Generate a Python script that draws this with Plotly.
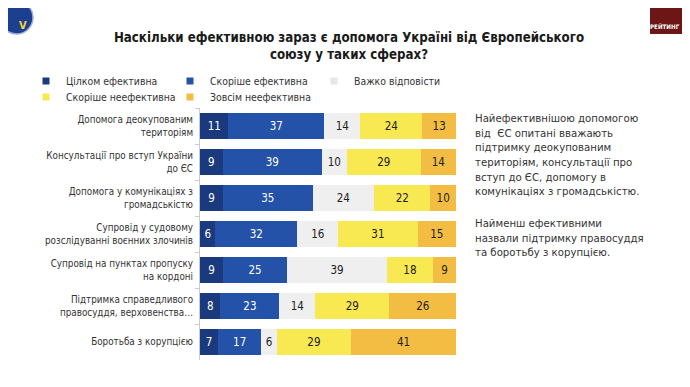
import plotly.graph_objects as go

categories = [
    "Допомога деокупованим<br>територіям",
    "Консультації про вступ України<br>до ЄС",
    "Допомога у комунікаціях з<br>громадськістю",
    "Супровід у судовому<br>розслідуванні воєнних злочинів",
    "Супровід на пунктах пропуску<br>на кордоні",
    "Підтримка справедливого<br>правосуддя, верховенства…",
    "Боротьба з корупцією",
]
series_names = ["Цілком ефективна", "Скоріше ефективна", "Важко відповісти",
                "Скоріше неефективна", "Зовсім неефективна"]
fully_eff = [11, 9, 9, 6, 9, 8, 7]
rather_eff = [37, 39, 35, 32, 25, 23, 17]
hard_to_say = [14, 10, 24, 16, 39, 14, 6]
rather_ineff = [24, 29, 22, 31, 18, 29, 29]
not_eff = [13, 14, 10, 15, 9, 26, 41]
values = [fully_eff, rather_eff, hard_to_say, rather_ineff, not_eff]
colors = ["#1b3a7d", "#2452a8", "#efefef", "#f8e852", "#f2bd42"]
text_colors = ["#ffffff", "#ffffff", "#222222", "#222222", "#222222"]

title_text = "Наскільки ефективною зараз є допомога Україні від Європейського<br>союзу у таких сферах?"
note1 = ("Найефективнішою допомогою<br>від  ЄС опитані вважають<br>підтримку деокупованим<br>"
         "територіям, консультації про<br>вступ до ЄС, допомогу в<br>комунікаціях з громадськістю.")
note2 = "Найменш ефективними<br>назвали підтримку правосуддя<br>та боротьбу з корупцією."

# page is shown with an 8px body margin on every side, so the figure is laid
# out smaller to avoid scrollbars
OFF = 8
W, H = 690 - 2 * OFF, 387 - 2 * OFF
ML, MT = 200 - OFF, 108 - OFF
MR = (690 - OFF) - 456
MB = (387 - OFF) - 360
PW, PH = W - ML - MR, H - MT - MB


def px(x):
    """reference page x -> paper x"""
    return (x - OFF - ML) / PW


def py(y):
    """reference page y -> paper y"""
    return 1 - (y - OFF - MT) / PH


FONT = "DejaVu Sans Condensed, DejaVu Sans, sans-serif"

fig = go.Figure()
for name, vals, col, tcol in zip(series_names, values, colors, text_colors):
    fig.add_trace(go.Bar(
        y=categories, x=vals, orientation="h", name=name,
        marker=dict(color=col, line=dict(width=0)),
        text=[str(v) for v in vals], textposition="inside",
        insidetextanchor="middle", textangle=0, constraintext="none",
        textfont=dict(color=tcol, size=11.5, family=FONT),
        showlegend=False, hoverinfo="skip",
    ))

for i, (name, col) in enumerate(zip(series_names, colors)):
    fig.add_trace(go.Scatter(
        x=[None], y=[None], mode="markers", name=name,
        marker=dict(symbol="square", size=7, color=col if col != "#efefef" else "#e6e6e6"),
        legend="legend" if i < 3 else "legend2", showlegend=True,
    ))

legend_common = dict(
    orientation="h", xref="paper", yref="paper",
    xanchor="left", yanchor="middle", traceorder="normal",
    font=dict(size=10.4, color="#333333", family=FONT),
    entrywidth=99, entrywidthmode="pixels",
    bgcolor="rgba(0,0,0,0)", itemclick=False, itemdoubleclick=False,
    tracegroupgap=0,
)

fig.update_layout(
    width=W, height=H,
    margin=dict(l=ML, r=MR, t=MT, b=MB, autoexpand=False),
    barmode="stack", barnorm="percent", bargap=0.28,
    plot_bgcolor="white", paper_bgcolor="white",
    font=dict(family=FONT, color="#333333"),
    title=dict(text=title_text, x=(349 - OFF) / W, xanchor="center", xref="container",
               y=1 - (42 - OFF) / H, yanchor="top", yref="container",
               font=dict(family="DejaVu Sans Condensed, sans-serif",
                         size=13.2, color="#1a1a1a", weight="bold")),
    legend=dict(x=px(26), y=py(81), **legend_common),
    legend2=dict(x=px(26), y=py(97), **legend_common),
    xaxis=dict(range=[0, 100], visible=False, fixedrange=True),
    yaxis=dict(autorange="reversed", showline=True, linecolor="#c3cad8", linewidth=1,
               ticks="outside", ticklen=4, tickcolor="#c3cad8", tickson="boundaries",
               ticklabelstandoff=4,
               tickfont=dict(size=9.8, color="#333333", family=FONT),
               showgrid=False, zeroline=False, fixedrange=True),
    showlegend=True,
)

# right-hand notes
fig.add_annotation(text=note1, xref="paper", yref="paper", x=px(473), y=py(110),
                   xanchor="left", yanchor="top", align="left", showarrow=False,
                   font=dict(size=11.3, color="#333333", family=FONT))
fig.add_annotation(text=note2, xref="paper", yref="paper", x=px(473), y=py(215),
                   xanchor="left", yanchor="top", align="left", showarrow=False,
                   font=dict(size=11.3, color="#333333", family=FONT))

# logo (top-left) and badge (top-right)
fig.add_shape(type="circle", xref="paper", yref="paper",
              x0=px(0), x1=px(33), y0=py(34), y1=py(1),
              fillcolor="#1d3f8f", line=dict(color="#9fb0d6", width=1.5))
fig.add_annotation(text="<b>V</b>", xref="paper", yref="paper", x=px(16.5), y=py(17),
                   showarrow=False, font=dict(size=11, color="#f2d43a", family=FONT))
fig.add_shape(type="rect", xref="paper", yref="paper",
              x0=px(650), x1=px(690), y0=py(34), y1=py(0),
              fillcolor="#6d1616", line=dict(width=0))
fig.add_annotation(text="<b>РЕЙТИНГ</b>", xref="paper", yref="paper", x=px(665), y=py(26),
                   xanchor="center", yanchor="middle",
                   showarrow=False, font=dict(size=6.2, color="#ffffff", family="DejaVu Sans Condensed"))

fig.write_html("out.html")
